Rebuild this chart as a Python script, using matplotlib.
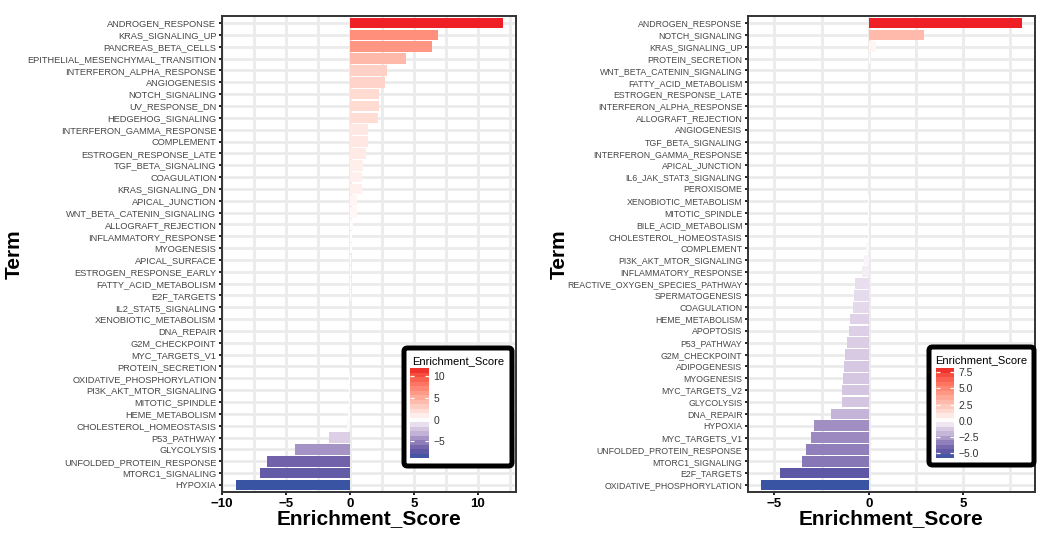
import numpy as np
import matplotlib
matplotlib.use("Agg")
import matplotlib.pyplot as plt
from matplotlib.patches import FancyBboxPatch
from matplotlib.ticker import MultipleLocator

plt.rcParams['font.family'] = ['Liberation Sans', 'DejaVu Sans']

# left panel, top to bottom
left_terms = [
    "ANDROGEN_RESPONSE", "KRAS_SIGNALING_UP", "PANCREAS_BETA_CELLS",
    "EPITHELIAL_MESENCHYMAL_TRANSITION", "INTERFERON_ALPHA_RESPONSE", "ANGIOGENESIS",
    "NOTCH_SIGNALING", "UV_RESPONSE_DN", "HEDGEHOG_SIGNALING",
    "INTERFERON_GAMMA_RESPONSE", "COMPLEMENT", "ESTROGEN_RESPONSE_LATE",
    "TGF_BETA_SIGNALING", "COAGULATION", "KRAS_SIGNALING_DN", "APICAL_JUNCTION",
    "WNT_BETA_CATENIN_SIGNALING", "ALLOGRAFT_REJECTION", "INFLAMMATORY_RESPONSE",
    "MYOGENESIS", "APICAL_SURFACE", "ESTROGEN_RESPONSE_EARLY", "FATTY_ACID_METABOLISM",
    "E2F_TARGETS", "IL2_STAT5_SIGNALING", "XENOBIOTIC_METABOLISM", "DNA_REPAIR",
    "G2M_CHECKPOINT", "MYC_TARGETS_V1", "PROTEIN_SECRETION", "OXIDATIVE_PHOSPHORYLATION",
    "PI3K_AKT_MTOR_SIGNALING", "MITOTIC_SPINDLE", "HEME_METABOLISM",
    "CHOLESTEROL_HOMEOSTASIS", "P53_PATHWAY", "GLYCOLYSIS", "UNFOLDED_PROTEIN_RESPONSE",
    "MTORC1_SIGNALING", "HYPOXIA",
]
left_scores = [
    11.95, 6.93, 6.46, 4.38, 2.94, 2.73, 2.27, 2.27, 2.19, 1.41, 1.41, 1.30,
    0.99, 0.91, 0.91, 0.57, 0.52, 0.26, 0.18, 0.15, 0.10, 0.08, 0.06, 0.05,
    0.04, 0.03, 0.02, 0.01, 0.0, -0.02, -0.05, -0.07, -0.10, -0.13, -0.21,
    -1.64, -4.30, -6.48, -7.03, -8.90,
]

# right panel, top to bottom
right_terms = [
    "ANDROGEN_RESPONSE", "NOTCH_SIGNALING", "KRAS_SIGNALING_UP", "PROTEIN_SECRETION",
    "WNT_BETA_CATENIN_SIGNALING", "FATTY_ACID_METABOLISM", "ESTROGEN_RESPONSE_LATE",
    "INTERFERON_ALPHA_RESPONSE", "ALLOGRAFT_REJECTION", "ANGIOGENESIS",
    "TGF_BETA_SIGNALING", "INTERFERON_GAMMA_RESPONSE", "APICAL_JUNCTION",
    "IL6_JAK_STAT3_SIGNALING", "PEROXISOME", "XENOBIOTIC_METABOLISM", "MITOTIC_SPINDLE",
    "BILE_ACID_METABOLISM", "CHOLESTEROL_HOMEOSTASIS", "COMPLEMENT",
    "PI3K_AKT_MTOR_SIGNALING", "INFLAMMATORY_RESPONSE", "REACTIVE_OXYGEN_SPECIES_PATHWAY",
    "SPERMATOGENESIS", "COAGULATION", "HEME_METABOLISM", "APOPTOSIS", "P53_PATHWAY",
    "G2M_CHECKPOINT", "ADIPOGENESIS", "MYOGENESIS", "MYC_TARGETS_V2", "GLYCOLYSIS",
    "DNA_REPAIR", "HYPOXIA", "MYC_TARGETS_V1", "UNFOLDED_PROTEIN_RESPONSE",
    "MTORC1_SIGNALING", "E2F_TARGETS", "OXIDATIVE_PHOSPHORYLATION",
]
right_scores = [
    8.11, 2.92, 0.38, 0.05, 0.04, 0.03, 0.02, 0.02, 0.01, 0.01, 0.0, 0.0, 0.0,
    -0.01, -0.01, -0.02, -0.03, -0.04, -0.05, -0.16, -0.23, -0.37, -0.73, -0.79,
    -0.84, -1.00, -1.05, -1.14, -1.24, -1.31, -1.36, -1.40, -1.40, -1.99, -2.88,
    -3.03, -3.32, -3.53, -4.69, -5.70,
]

left_xticks = [-10, -5, 0, 5, 10]
right_xticks = [-5, 0, 5]
left_cbar_ticks = [-5, 0, 5, 10]
left_cbar_labels = ["\u22125", "0", "5", "10"]
right_cbar_ticks = [-5, -2.5, 0, 2.5, 5, 7.5]
right_cbar_labels = ["\u22125.0", "\u22122.5", "0.0", "2.5", "5.0", "7.5"]

high_col = (0xEE / 255, 0x20 / 255, 0x25 / 255)
mid_col = (1.0, 1.0, 1.0)
# negative side of the fill scale (fraction of the way from white to the low end)
neg_stops = [0.0, 0.18, 0.35, 0.5, 0.73, 0.82, 1.0]
neg_rgb = [(255, 255, 255), (222, 208, 230), (196, 180, 215), (162, 143, 196),
           (112, 97, 170), (94, 88, 165), (58, 84, 164)]

W, H = 1046, 540

M = np.array([[0.4124564, 0.3575761, 0.1804375],
              [0.2126729, 0.7151522, 0.0721750],
              [0.0193339, 0.1191920, 0.9503041]])
WHITE = np.array([0.95047, 1.0, 1.08883])


def to_lab(rgb):
    rgb = np.asarray(rgb, float)
    lin = np.where(rgb <= 0.04045, rgb / 12.92, ((rgb + 0.055) / 1.055) ** 2.4)
    t = (lin @ M.T) / WHITE
    d = 6 / 29
    f = np.where(t > d ** 3, np.cbrt(t), t / (3 * d * d) + 4 / 29)
    return np.stack([116 * f[..., 1] - 16,
                     500 * (f[..., 0] - f[..., 1]),
                     200 * (f[..., 1] - f[..., 2])], -1)


def from_lab(lab):
    fy = (lab[..., 0] + 16) / 116
    f = np.stack([fy + lab[..., 1] / 500, fy, fy - lab[..., 2] / 200], -1)
    d = 6 / 29
    t = np.where(f > d, f ** 3, 3 * d * d * (f - 4 / 29))
    lin = np.clip((t * WHITE) @ np.linalg.inv(M).T, 0, 1)
    rgb = np.where(lin <= 0.0031308, 12.92 * lin, 1.055 * lin ** (1 / 2.4) - 0.055)
    return np.clip(rgb, 0, 1)


def fill_colors(values, vmin, vmax):
    v = np.asarray(values, float)
    mid, hi = to_lab(mid_col), to_lab(high_col)
    tp = np.clip(v / vmax, 0, 1)
    pos = from_lab(mid + tp[:, None] * (hi - mid))
    tn = np.clip(v / vmin, 0, 1)
    nr = np.array(neg_rgb) / 255
    neg = np.stack([np.interp(tn, neg_stops, nr[:, k]) for k in range(3)], -1)
    return np.where((v < 0)[:, None], neg, pos)


def px_rect(x0, y0, x1, y1):
    return [x0 / W, 1 - y1 / H, (x1 - x0) / W, (y1 - y0) / H]


def panel(fig, rect, terms, scores, xticks, label_size):
    ax = fig.add_axes(px_rect(*rect))
    n = len(terms)
    ypos = np.arange(n, 0, -1)
    vmin, vmax = min(scores), max(scores)
    ax.barh(ypos, scores, height=0.9, color=fill_colors(scores, vmin, vmax), zorder=2)
    lo, hi = min(vmin, 0), max(vmax, 0)
    pad = 0.05 * (hi - lo)
    ax.set_xlim(lo - pad, hi + pad)
    ax.set_ylim(0.4, n + 0.6)
    ax.set_yticks(ypos, terms)
    ax.set_xticks(xticks)
    ax.xaxis.set_minor_locator(MultipleLocator(2.5))
    ax.set_axisbelow(True)
    ax.grid(True, which="major", color="#EBEBEB", lw=2.0)
    ax.grid(True, which="minor", axis="x", color="#EBEBEB", lw=2.0)
    ax.tick_params(which="minor", length=0)
    ax.tick_params(axis="y", length=2.5, width=1.4, color="#222222", pad=1.5,
                   labelsize=label_size, labelcolor="#474747")
    ax.tick_params(axis="x", length=2.5, width=1.4, color="#222222", pad=1.5,
                   labelsize=9.5, labelcolor="black")
    ax.set_xticklabels([str(t).replace("-", "\u2212") for t in xticks], fontweight="bold")
    for s in ax.spines.values():
        s.set_color("#333333")
        s.set_linewidth(1.4)
    return ax, vmin, vmax


def legend(fig, box, bar, vmin, vmax, ticks, labels, title):
    x0, y0, x1, y1 = box
    frame = FancyBboxPatch((x0 / 100, (H - y1) / 100), (x1 - x0) / 100, (y1 - y0) / 100,
                           boxstyle="round,pad=0,rounding_size=0.035",
                           transform=fig.dpi_scale_trans, facecolor="white",
                           edgecolor="black", linewidth=3.6, zorder=1)
    fig.add_artist(frame)
    fig.text((x0 + x1) / 2 / W, 1 - (y0 + 13) / H, title, ha="center", va="center",
             fontsize=8, color="black", zorder=4)
    cax = fig.add_axes(px_rect(*bar))
    cax.set_zorder(3)
    nbin = 20
    edges = np.linspace(vmin, vmax, nbin + 1)
    mids = (edges[:-1] + edges[1:]) / 2
    cols = fill_colors(mids, vmin, vmax)
    cax.imshow(cols[:, None, :], aspect="auto", origin="lower",
               extent=[0, 1, vmin, vmax], interpolation="nearest")
    cax.hlines(ticks, 0, 0.2, color="white", lw=0.9)
    cax.hlines(ticks, 0.8, 1, color="white", lw=0.9)
    cax.set_xlim(0, 1)
    cax.set_ylim(vmin, vmax)
    cax.set_xticks([])
    cax.yaxis.tick_right()
    cax.set_yticks(ticks, labels)
    cax.tick_params(axis="y", length=0, pad=3, labelsize=7.5, labelcolor="#333333")
    for s in cax.spines.values():
        s.set_visible(False)


fig = plt.figure(figsize=(W / 100, H / 100), dpi=100)

axl, lmin, lmax = panel(fig, (222, 16, 516, 492), left_terms, left_scores, left_xticks, 6.7)
axr, rmin, rmax = panel(fig, (748, 16, 1035, 492), right_terms, right_scores, right_xticks, 6.3)

legend(fig, (404, 348, 512, 466), (410, 368, 429, 458), lmin, lmax,
       left_cbar_ticks, left_cbar_labels, "Enrichment_Score")
legend(fig, (929, 347, 1034, 465), (936, 368, 954, 458), rmin, rmax,
       right_cbar_ticks, right_cbar_labels, "Enrichment_Score")

for xc in (369, 891.5):
    fig.text(xc / W, 1 - 519 / H, "Enrichment_Score", ha="center", va="center",
             fontsize=15, fontweight="bold")
for xc in (14, 559):
    fig.text(xc / W, 1 - 254 / H, "Term", ha="center", va="center", rotation=90,
             fontsize=15, fontweight="bold")

fig.savefig("out.png", dpi=100)
